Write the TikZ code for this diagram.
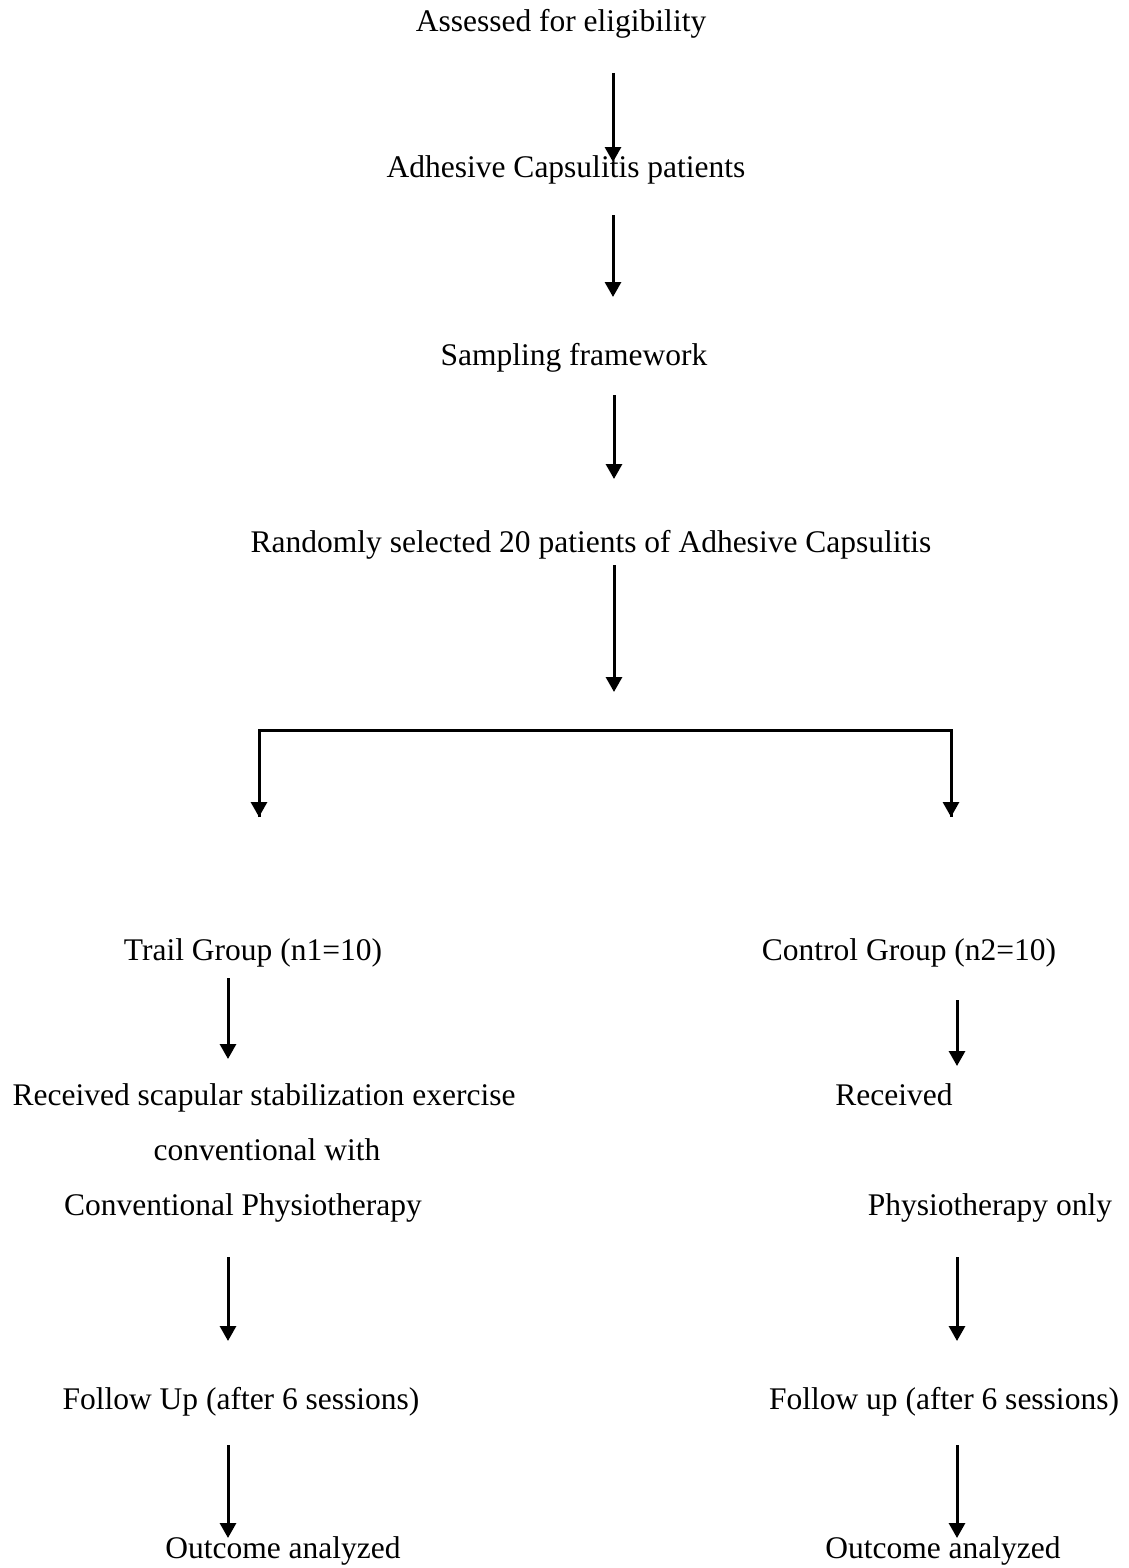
\documentclass[tikz,border=0pt]{standalone}
\usepackage{fontspec}
\setmainfont{Liberation Serif}
\usetikzlibrary{arrows.meta}
\begin{document}
\begin{tikzpicture}[x=1pt,y=-1pt,
  lbl/.style={anchor=base,inner sep=0pt,font=\fontsize{31.5}{38}\selectfont},
  arr/.style={line width=3pt,-{Triangle[width=16pt,length=15pt]}},
  ln/.style={line width=3pt}]
\useasboundingbox (0,0) rectangle (1128,1568);
% texts
\node[lbl] (t1) at (561,32) {Assessed for eligibility};
\node[lbl] (t2) at (566,177) {Adhesive Capsulitis patients};
\node[lbl] (t3) at (574,365) {Sampling framework};
\node[lbl] (t4) at (591,552) {Randomly selected 20 patients of Adhesive Capsulitis};
\node[lbl] (l1) at (253,960) {Trail Group (n1=10)};
\node[lbl] (r1) at (909,960) {Control Group (n2=10)};
\node[lbl] (l2a) at (264,1105) {Received scapular stabilization exercise};
\node[lbl] (l2b) at (267,1160) {conventional with};
\node[lbl] (l2c) at (243,1215) {Conventional Physiotherapy};
\node[lbl] (r2a) at (894,1105) {Received};
\node[lbl] (r2c) at (990,1215) {Physiotherapy only};
\node[lbl] (l3) at (241,1409) {Follow Up (after 6 sessions)};
\node[lbl] (r3) at (944,1409) {Follow up (after 6 sessions)};
\node[lbl] (l4) at (283,1558) {Outcome analyzed};
\node[lbl] (r4) at (943,1558) {Outcome analyzed};
% arrow endpoints
\coordinate (a1s) at (613,73);  \coordinate (a1e) at (613,162);
\coordinate (a2s) at (613,215); \coordinate (a2e) at (613,297);
\coordinate (a3s) at (614,395); \coordinate (a3e) at (614,479);
\coordinate (a4s) at (614,565); \coordinate (a4e) at (614,692);
\coordinate (bl) at (259,730); \coordinate (br) at (951,730);
\coordinate (ble) at (259,817); \coordinate (bre) at (951,817);
\coordinate (l5s) at (228,978);  \coordinate (l5e) at (228,1059);
\coordinate (r5s) at (957,1000); \coordinate (r5e) at (957,1066);
\coordinate (l6s) at (228,1257); \coordinate (l6e) at (228,1341);
\coordinate (r6s) at (957,1257); \coordinate (r6e) at (957,1341);
\coordinate (l7s) at (228,1445); \coordinate (l7e) at (228,1538);
\coordinate (r7s) at (957,1445); \coordinate (r7e) at (957,1538);
% arrows
\draw[arr] (a1s) -- (a1e);
\draw[arr] (a2s) -- (a2e);
\draw[arr] (a3s) -- (a3e);
\draw[arr] (a4s) -- (a4e);
\draw[ln,line join=miter] (ble) -- (bl) -- (br) -- (bre);
\draw[arr] (bl) -- (ble);
\draw[arr] (br) -- (bre);
\draw[arr] (l5s) -- (l5e);
\draw[arr] (r5s) -- (r5e);
\draw[arr] (l6s) -- (l6e);
\draw[arr] (r6s) -- (r6e);
\draw[arr] (l7s) -- (l7e);
\draw[arr] (r7s) -- (r7e);
\end{tikzpicture}
\end{document}
